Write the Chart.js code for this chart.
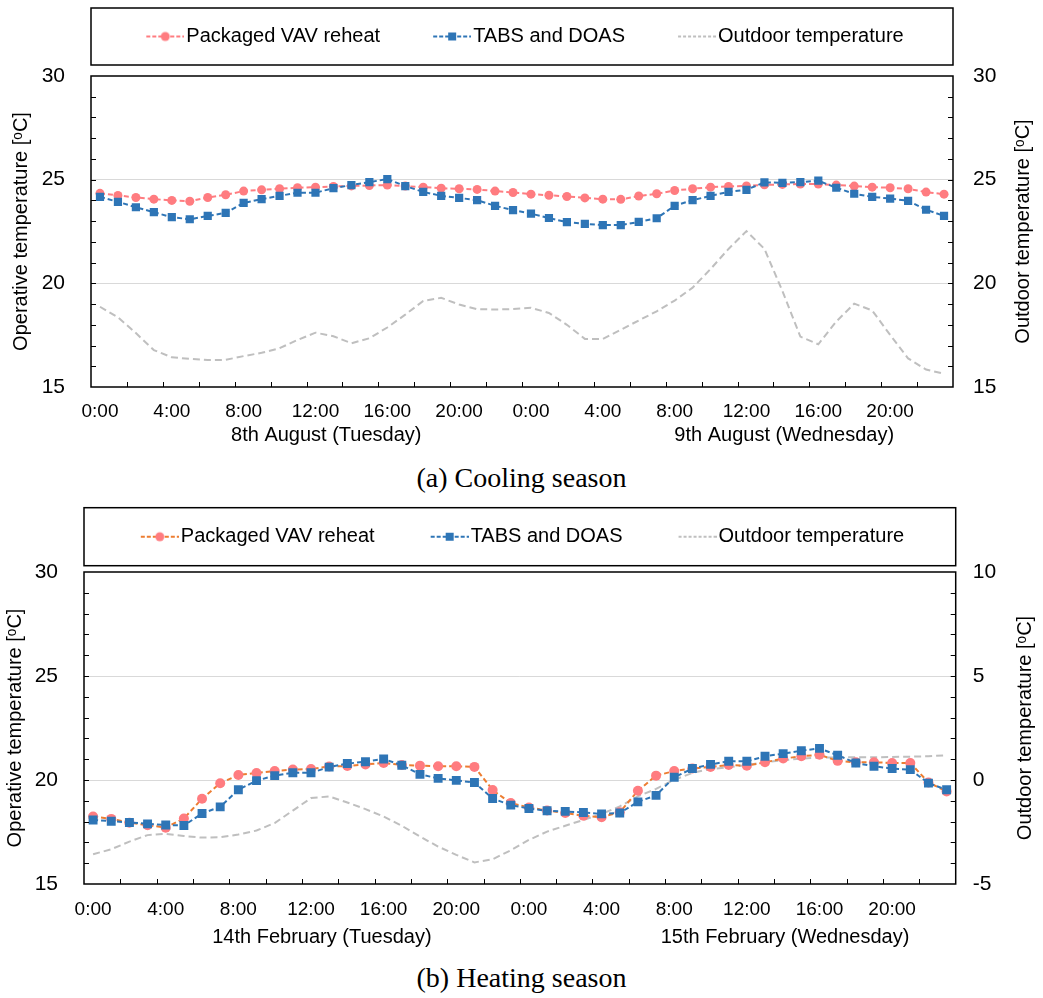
<!DOCTYPE html>
<html>
<head>
<meta charset="utf-8">
<script src="https://cdn.jsdelivr.net/npm/chart.js@4.4.1/dist/chart.umd.min.js"></script>
<style>
  html, body { margin: 0; padding: 0; background: #fff; }
  #wrap { position: relative; width: 1043px; height: 998px; overflow: hidden; background: #fff; }
  #wrap canvas { position: absolute; left: 0; }
  .caption { position: absolute; left: 0; width: 1043px; text-align: center;
             font-family: 'Liberation Serif', 'Times New Roman', serif; font-size: 28px;
             line-height: 30px; color: #000; }
</style>
</head>
<body>
<div id="wrap">
  <canvas id="cooling" width="1043" height="455" style="top:0px"></canvas>
  <div class="caption" style="top:463px">(a) Cooling season</div>
  <canvas id="heating" width="1043" height="460" style="top:495px"></canvas>
  <div class="caption" style="top:963px">(b) Heating season</div>
</div>
<script>
// ---- data ----
const hourLabels = [
  '0:00','1:00','2:00','3:00','4:00','5:00','6:00','7:00','8:00','9:00','10:00','11:00',
  '12:00','13:00','14:00','15:00','16:00','17:00','18:00','19:00','20:00','21:00','22:00','23:00',
  '0:00','1:00','2:00','3:00','4:00','5:00','6:00','7:00','8:00','9:00','10:00','11:00',
  '12:00','13:00','14:00','15:00','16:00','17:00','18:00','19:00','20:00','21:00','22:00','23:00'
];
const seriesNames = ['Packaged VAV reheat', 'TABS and DOAS', 'Outdoor temperature'];

const coolingPackaged = [24.34,24.24,24.14,24.06,24.00,23.96,24.14,24.27,24.45,24.51,24.56,24.61,
  24.64,24.67,24.70,24.72,24.74,24.69,24.64,24.59,24.56,24.53,24.45,24.38,
  24.30,24.25,24.19,24.12,24.06,24.05,24.21,24.32,24.48,24.56,24.64,24.67,
  24.70,24.75,24.77,24.79,24.79,24.74,24.69,24.64,24.61,24.56,24.40,24.30];
const coolingTabs = [24.17,23.93,23.67,23.43,23.19,23.09,23.25,23.40,23.88,24.06,24.22,24.37,
  24.37,24.59,24.74,24.88,25.03,24.69,24.41,24.22,24.12,24.01,23.74,23.53,
  23.36,23.15,22.95,22.87,22.81,22.81,22.96,23.14,23.74,24.01,24.22,24.41,
  24.51,24.87,24.85,24.88,24.95,24.61,24.32,24.17,24.09,23.98,23.55,23.25];
const coolingOutdoor = [18.87,18.36,17.60,16.78,16.43,16.36,16.30,16.31,16.49,16.65,16.87,17.27,
  17.62,17.45,17.11,17.35,17.87,18.49,19.15,19.30,18.98,18.75,18.74,18.76,
  18.82,18.57,18.00,17.32,17.32,17.76,18.21,18.65,19.17,19.79,20.69,21.66,
  22.52,21.66,19.63,17.43,17.06,18.16,19.02,18.69,17.51,16.38,15.84,15.64];

const heatingPackaged = [18.24,18.13,17.95,17.83,17.71,18.15,19.10,19.84,20.24,20.34,20.43,20.50,
  20.53,20.65,20.67,20.75,20.82,20.72,20.69,20.66,20.66,20.63,19.52,18.89,
  18.68,18.53,18.41,18.28,18.21,18.45,19.48,20.21,20.43,20.55,20.63,20.72,
  20.69,20.85,21.03,21.14,21.21,20.92,20.85,20.85,20.82,20.82,19.88,19.45];
const heatingTabs = [18.08,18.02,17.96,17.89,17.84,17.81,18.39,18.71,19.53,19.97,20.21,20.35,
  20.35,20.62,20.79,20.88,21.01,20.71,20.27,20.08,19.98,19.88,19.11,18.79,
  18.63,18.52,18.49,18.44,18.37,18.41,18.95,19.26,20.13,20.55,20.75,20.90,
  20.90,21.14,21.27,21.41,21.52,21.19,20.82,20.66,20.55,20.50,19.85,19.53];
const heatingOutdoor = [-3.57,-3.33,-2.96,-2.65,-2.59,-2.69,-2.77,-2.75,-2.62,-2.43,-2.07,-1.47,
  -0.87,-0.79,-1.08,-1.40,-1.76,-2.20,-2.72,-3.20,-3.60,-3.96,-3.81,-3.38,
  -2.88,-2.48,-2.20,-1.92,-1.63,-1.27,-0.79,-0.43,0.01,0.34,0.53,0.61,
  0.72,0.85,0.95,1.03,1.08,1.09,1.09,1.09,1.11,1.12,1.14,1.19];

const operativeTicks = [15, 20, 25, 30];
const coolingOutdoorTicks = [15, 20, 25, 30];
const heatingOutdoorTicks = [-5, 0, 5, 10];
const coolingDays = ['8th August (Tuesday)', '9th August (Wednesday)'];
const heatingDays = ['14th February (Tuesday)', '15th February (Wednesday)'];
const dayCentres = [12.6, 38.1];   // position of each day name along the hour axis

// ---- styling ----
const FONT = "'Liberation Sans', Arial, sans-serif";
const PINK = '#FF7C80', ORANGE = '#ED7D31', BLUE = '#2E75B6', GREY = '#BFBFBF';
Chart.defaults.font.family = FONT;
Chart.defaults.color = '#000';

// legend sample: dashed line with its marker, right-aligned inside the image
function legendSample(width, lineColor, marker, markerColor, dash) {
  const c = document.createElement('canvas');
  c.width = width; c.height = 14;
  const g = c.getContext('2d');
  g.strokeStyle = lineColor; g.lineWidth = 2; g.setLineDash(dash);
  g.beginPath(); g.moveTo(width - 38, 7); g.lineTo(width, 7); g.stroke();
  g.fillStyle = markerColor;
  if (marker === 'circle') { g.beginPath(); g.arc(width - 19, 7, 4.5, 0, Math.PI * 2); g.fill(); }
  if (marker === 'rect') { g.fillRect(width - 23, 3, 8, 8); }
  return c;
}

function decorations(d) {
  return {
    id: 'decorations',
    afterDraw(chart) {
      const { ctx, chartArea: a, scales: { x, y, y2 }, legend } = chart;
      ctx.save();
      // inward tick marks on the three axes
      ctx.strokeStyle = '#000'; ctx.lineWidth = 1; ctx.beginPath();
      for (let v = y.min + 1; v < y.max; v++) {
        const p = Math.round(y.getPixelForValue(v)) + 0.5;
        ctx.moveTo(a.left, p); ctx.lineTo(a.left + 5, p);
      }
      for (let v = y2.min + 1; v < y2.max; v++) {
        const p = Math.round(y2.getPixelForValue(v)) + 0.5;
        ctx.moveTo(a.right, p); ctx.lineTo(a.right - 5, p);
      }
      for (let i = 2; i < chart.data.labels.length; i += 2) {
        const p = Math.round(x.getPixelForValue(i - 0.5)) + 0.5;
        ctx.moveTo(p, a.bottom); ctx.lineTo(p, a.bottom - 5);
      }
      ctx.stroke();
      // plot frame and legend frame
      ctx.lineWidth = 1.5;
      ctx.strokeRect(a.left, a.top, a.width, a.height);
      const cy = legend.top + 10 + 10;
      ctx.strokeRect(a.left, cy - d.legendBoxH / 2, a.width, d.legendBoxH);
      // day names under the hour labels
      ctx.fillStyle = '#000';
      ctx.font = '20px ' + FONT;
      ctx.textAlign = 'center'; ctx.textBaseline = 'alphabetic';
      d.days.forEach((name, k) => ctx.fillText(name, x.getPixelForValue(dayCentres[k]), a.bottom + d.dayBaseline));
      // right axis title, reading upwards
      ctx.translate(d.rightTitleX, (a.top + a.bottom) / 2);
      ctx.rotate(-Math.PI / 2);
      ctx.textBaseline = 'middle';
      ctx.fillText('Outdoor temperature [ᵒC]', 0, 0);
      ctx.restore();
    }
  };
}

function buildChart(id, s) {
  const samples = [
    legendSample(s.sampleW, s.packagedLine, 'circle', PINK, [4, 2]),
    legendSample(s.sampleW, BLUE, 'rect', BLUE, [4, 2]),
    legendSample(s.sampleW, GREY, null, GREY, [3, 2])
  ];
  return new Chart(document.getElementById(id), {
    type: 'line',
    data: {
      labels: hourLabels,
      datasets: [
        { label: seriesNames[0], data: s.packaged, yAxisID: 'y', order: 1,
          borderColor: s.packagedLine, borderWidth: 2, borderDash: [5, 3], tension: 0, fill: false,
          pointStyle: 'circle', pointRadius: s.dotR, pointBackgroundColor: PINK,
          pointBorderColor: PINK, pointBorderWidth: 0 },
        { label: seriesNames[1], data: s.tabs, yAxisID: 'y', order: 0,
          borderColor: BLUE, borderWidth: 2, borderDash: [5, 3], tension: 0, fill: false,
          pointStyle: 'rect', pointRadius: s.sqR, pointBackgroundColor: BLUE,
          pointBorderColor: BLUE, pointBorderWidth: 0 },
        { label: seriesNames[2], data: s.outdoor, yAxisID: 'y2', order: 2,
          borderColor: GREY, borderWidth: 2, borderDash: [7, 4], tension: 0, fill: false,
          pointRadius: 0 }
      ]
    },
    options: {
      responsive: false, animation: false, devicePixelRatio: 1,
      layout: { padding: { top: s.padTop, right: s.padRight, left: 0, bottom: 0 } },
      plugins: {
        tooltip: { enabled: false },
        legend: {
          position: 'top', align: 'center',
          labels: {
            usePointStyle: true, pointStyleWidth: s.legendBox, padding: 10,
            font: { size: 20 }, color: '#000',
            generateLabels: () => seriesNames.map((t, i) => ({
              text: t, pointStyle: samples[i], datasetIndex: i, hidden: false,
              fillStyle: 'rgba(0,0,0,0)', strokeStyle: 'rgba(0,0,0,0)', lineWidth: 0, fontColor: '#000'
            }))
          }
        },
        subtitle: { display: true, text: '', position: 'top', weight: 500,
                    padding: 0, font: { size: s.gap, lineHeight: 1 } }
      },
      scales: {
        x: {
          type: 'category', offset: true,
          grid: { display: false }, border: { display: false },
          ticks: {
            autoSkip: false, maxRotation: 0, minRotation: 0, padding: s.xPad, font: { size: 19 },
            callback: function (v, i) { return i % 4 === 0 ? this.getLabelForValue(v) : ''; }
          },
          afterFit: sc => { sc.height = s.xHeight; }
        },
        y: {
          position: 'left', min: 15, max: 30, border: { display: false },
          grid: { drawTicks: false, lineWidth: 1,
                  color: c => (c.tick && (c.tick.value === 20 || c.tick.value === 25)) ? '#D9D9D9' : 'rgba(0,0,0,0)' },
          ticks: { stepSize: 1, autoSkip: false, padding: s.yPad, font: { size: 21 },
                   callback: v => operativeTicks.includes(v) ? String(v) : '' },
          title: { display: true, text: 'Operative temperature [ᵒC]', font: { size: 20 },
                   padding: { top: s.yTitlePad, bottom: 0 } },
          afterFit: sc => { sc.width = s.yWidth; }
        },
        y2: {
          position: 'right', min: s.rightMin, max: s.rightMax, border: { display: false },
          grid: { display: false, drawTicks: false },
          ticks: { stepSize: 1, autoSkip: false, padding: s.y2Pad, font: { size: 21 },
                   callback: v => s.rightTicks.includes(v) ? String(v) : '' },
          afterFit: sc => { sc.width = s.y2Width; }
        }
      }
    },
    plugins: [decorations({ days: s.days, dayBaseline: s.dayBaseline,
                            rightTitleX: s.rightTitleX, legendBoxH: s.legendBoxH })]
  });
}

buildChart('cooling', {
  packaged: coolingPackaged, tabs: coolingTabs, outdoor: coolingOutdoor,
  packagedLine: PINK, rightMin: 15, rightMax: 30, rightTicks: coolingOutdoorTicks, days: coolingDays,
  dotR: 4.5, sqR: 5.8,
  padTop: 16.5, padRight: 36, gap: 19.5, legendBox: 73, sampleW: 89, legendBoxH: 57,
  yWidth: 91, y2Width: 54, xHeight: 68, xPad: 5, yPad: 26, y2Pad: 20, yTitlePad: 9,
  dayBaseline: 54, rightTitleX: 1023
});

buildChart('heating', {
  packaged: heatingPackaged, tabs: heatingTabs, outdoor: heatingOutdoor,
  packagedLine: ORANGE, rightMin: -5, rightMax: 10, rightTicks: heatingOutdoorTicks, days: heatingDays,
  dotR: 5, sqR: 6.3,
  padTop: 21.7, padRight: 44, gap: 15.3, legendBox: 76, sampleW: 92, legendBoxH: 58,
  yWidth: 84, y2Width: 43.3, xHeight: 71, xPad: 6, yPad: 26, y2Pad: 17, yTitlePad: 3,
  dayBaseline: 59, rightTitleX: 1025
});
</script>
</body>
</html>
